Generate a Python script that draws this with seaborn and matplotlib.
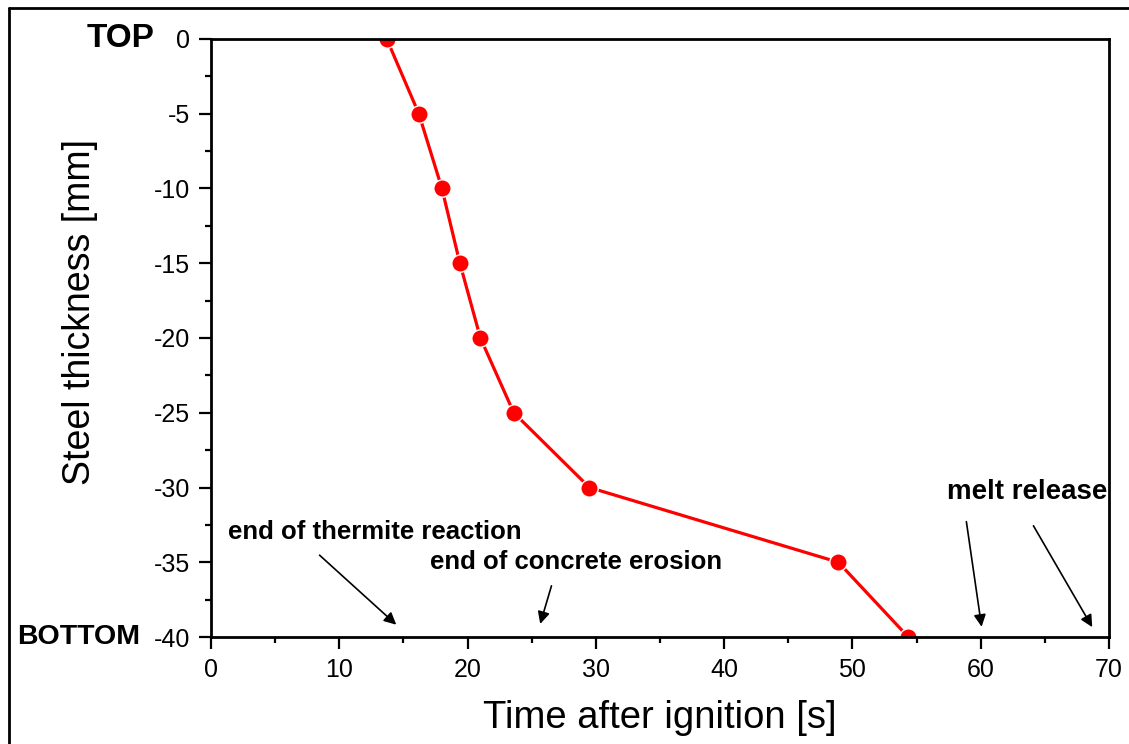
import matplotlib
matplotlib.use("Agg")
import matplotlib.pyplot as plt
from matplotlib.lines import Line2D
from matplotlib.ticker import MultipleLocator
import seaborn as sns
import pandas as pd

# data
time_s = [13.7, 16.2, 18.0, 19.4, 21.0, 23.6, 29.5, 48.9, 54.35]
thickness_mm = [0, -5, -10, -15, -20, -25, -30, -35, -40]
x_ticks = [0, 10, 20, 30, 40, 50, 60, 70]
y_ticks = [0, -5, -10, -15, -20, -25, -30, -35, -40]

sns.set_theme(style="white")
plt.rcParams['font.family'] = ['Liberation Sans', 'DejaVu Sans']
plt.rcParams['axes.unicode_minus'] = False
plt.rcParams['text.color'] = 'black'
plt.rcParams['axes.labelcolor'] = 'black'
plt.rcParams['xtick.color'] = 'black'
plt.rcParams['ytick.color'] = 'black'

fig = plt.figure(figsize=(11.29, 7.44), dpi=100)
ax = fig.add_axes([0.1869, 0.1438, 0.7954, 0.8038])

df = pd.DataFrame({"t": time_s, "d": thickness_mm})
sns.lineplot(data=df, x="t", y="d", ax=ax, color="#ff0000", linewidth=2.3,
             marker="o", markersize=12.5, markeredgecolor="white",
             markeredgewidth=1.0, sort=False, estimator=None)

ax.set_xlim(0, 70)
ax.set_ylim(-40, 0)
ax.set_xticks(x_ticks)
ax.set_yticks(y_ticks)
ax.xaxis.set_minor_locator(MultipleLocator(5))
ax.yaxis.set_minor_locator(MultipleLocator(2.5))
ax.tick_params(axis="both", which="major", direction="out", length=8.5, width=1.6,
               labelsize=18, colors="black", pad=6.5, bottom=True, left=True)
ax.tick_params(axis="both", which="minor", direction="out", length=4.5, width=1.6,
               bottom=True, left=True)
for s in ax.spines.values():
    s.set_color("black")
    s.set_linewidth(2.0)

ax.set_xlabel("Time after ignition [s]", fontsize=27.5, labelpad=13, color="black")
ax.set_ylabel("Steel thickness [mm]", fontsize=27, color="black")
ax.yaxis.set_label_coords(-0.1255, 0.5435)

# side labels
ax.text(-0.0624, 0, "TOP", transform=ax.get_yaxis_transform(), ha="right", va="center",
        fontsize=24, fontweight="bold", color="black")
ax.text(-0.079, -40, "BOTTOM", transform=ax.get_yaxis_transform(), ha="right", va="center",
        fontsize=20.5, fontweight="bold", color="black")

arrow = dict(arrowstyle="-|>", color="black", lw=1.2, mutation_scale=18)
ax.text(1.3, -33.0, "end of thermite reaction", fontsize=18.5, fontweight="bold",
        ha="left", va="center", color="black")
ax.annotate("", xy=(14.6, -39.3), xytext=(8.3, -34.4), arrowprops=arrow)
ax.text(17.1, -35.0, "end of concrete erosion", fontsize=18.5, fontweight="bold",
        ha="left", va="center", color="black")
ax.annotate("", xy=(25.6, -39.3), xytext=(26.6, -36.4), arrowprops=arrow)
ax.text(57.4, -30.3, "melt release", fontsize=20, fontweight="bold", ha="left",
        va="center", color="black")
ax.annotate("", xy=(60.1, -39.5), xytext=(58.85, -32.1), arrowprops=arrow)
ax.annotate("", xy=(68.8, -39.5), xytext=(64.0, -32.4), arrowprops=arrow)

# outer frame lines (left and top)
fig.add_artist(Line2D([9/1129, 9/1129], [0, 1 - 8/744], color="black", lw=2.0,
                      transform=fig.transFigure))
fig.add_artist(Line2D([9/1129, 1], [1 - 8/744, 1 - 8/744], color="black", lw=2.0,
                      transform=fig.transFigure))

fig.savefig("out.png", dpi=100)
